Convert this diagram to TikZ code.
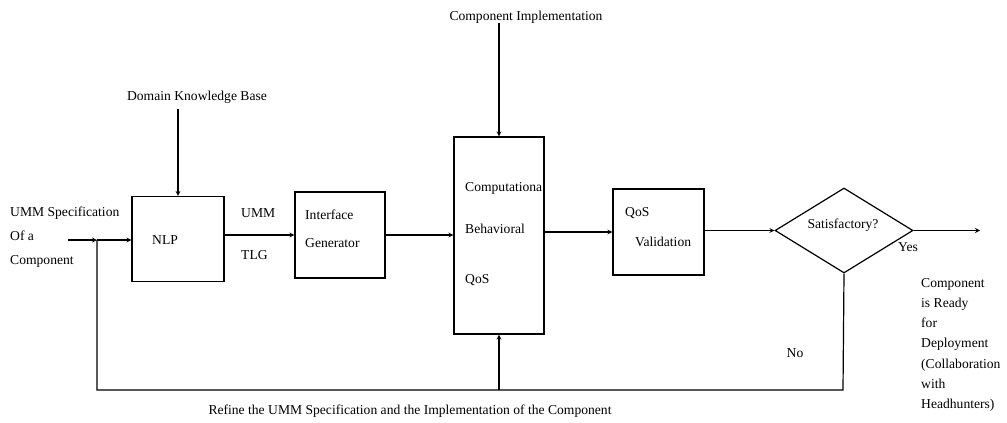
\documentclass[tikz,border=0pt]{standalone}
\usepackage{fontspec}
\setmainfont{Liberation Serif}
\usetikzlibrary{shapes.geometric}
\tikzset{
	blk/.style={
		draw, rectangle, line width=1.2pt, inner sep=0pt
	},
	txt/.style={
		inner sep=0pt, font={\fontsize{13.6}{16}\selectfont}
	},
	flow/.style={line width=1.2pt},
	>=stealth,
}
\begin{document}
\begin{tikzpicture}[
x=1pt, y=-1pt,
]
\useasboundingbox (0,0) rectangle (1007,423);
% blocks
\node [blk, minimum width=92pt, minimum height=85pt] (nlp) at (178,239) {};
\node [blk, minimum width=90pt, minimum height=86pt] (iface) at (340,235) {};
\node [blk, minimum width=90pt, minimum height=197pt] (impl) at (499,235.5) {};
\node [blk, minimum width=91pt, minimum height=86pt] (qos) at (658.5,232) {};
\node [draw, diamond, line width=1.2pt, inner sep=0pt, minimum width=138pt, minimum height=85pt, aspect=1.6] (sat) at (844,230.5) {};
% texts in blocks
\node [txt, anchor=west] (nlptxt) at (152,240) {NLP};
\node [txt, anchor=west, align=left, font={\fontsize{13.6}{28}\selectfont}] (ifacetxt) at (305,229) {Interface\\Generator};
\node [txt, anchor=west] (comp) at (465,188) {Computationa};
\node [txt, anchor=west] (behav) at (465,229) {Behavioral};
\node [txt, anchor=west] (qostxt) at (465,280) {QoS};
\node [txt, anchor=west] (qosa) at (625,213) {QoS};
\node [txt, anchor=west] (qosb) at (635,242) {Validation};
\node [txt] (sattxt) at (843,225) {Satisfactory?};
% outside texts
\node [txt, anchor=west, align=left, font={\fontsize{13.6}{24}\selectfont}] (spec) at (10,237) {UMM Specification\\Of a\\Component};
\node [txt] (dkb) at (197,97) {Domain Knowledge Base};
\node [txt] (ci) at (526,17) {Component Implementation};
\node [txt, anchor=west] (umm) at (241,213) {UMM};
\node [txt, anchor=west] (tlg) at (241,255) {TLG};
\node [txt, anchor=west] (yes) at (898,247) {Yes};
\node [txt] (no) at (795,353) {No};
\node [txt, anchor=north west, align=left, font={\fontsize{13.6}{20.2}\selectfont}] (ready) at (921,278) {Component\\is Ready\\for\\Deployment\\(Collaboration\\with\\Headhunters)};
\node [txt] (refine) at (410,411) {Refine the UMM Specification and the Implementation of the Component};
% junctions
\coordinate (in) at (68,240);
\coordinate (join) at (97,240);
\coordinate (fbl) at (97,390);
\coordinate (fbr) at (843,390);
\coordinate (out) at (980,230.5);
% connectors
\draw [flow, ->] (in) -- (join);
\draw [flow, ->] (join) -- (nlp.west |- join);
\draw [flow, ->] (dkb.south -| nlp.north) ++(0,6) -- (nlp.north);
\draw [flow, ->] (ci.south -| impl.north) -- (impl.north);
\draw [flow, ->] (nlp.east |- iface.west) -- (iface.west);
\draw [flow, ->] (iface.east) -- (impl.west |- iface.east);
\draw [flow, ->] (impl.east |- qos.west) -- (qos.west);
\draw [flow, ->] (qos.east |- sat.west) -- (sat.west);
\draw [flow, ->] (sat.east) -- (out);
\draw [flow] (sat.south) -- (fbr) -- (fbl) -- (join);
\draw [flow, ->] (fbl -| impl.south) -- (impl.south);
\end{tikzpicture}
\end{document}
